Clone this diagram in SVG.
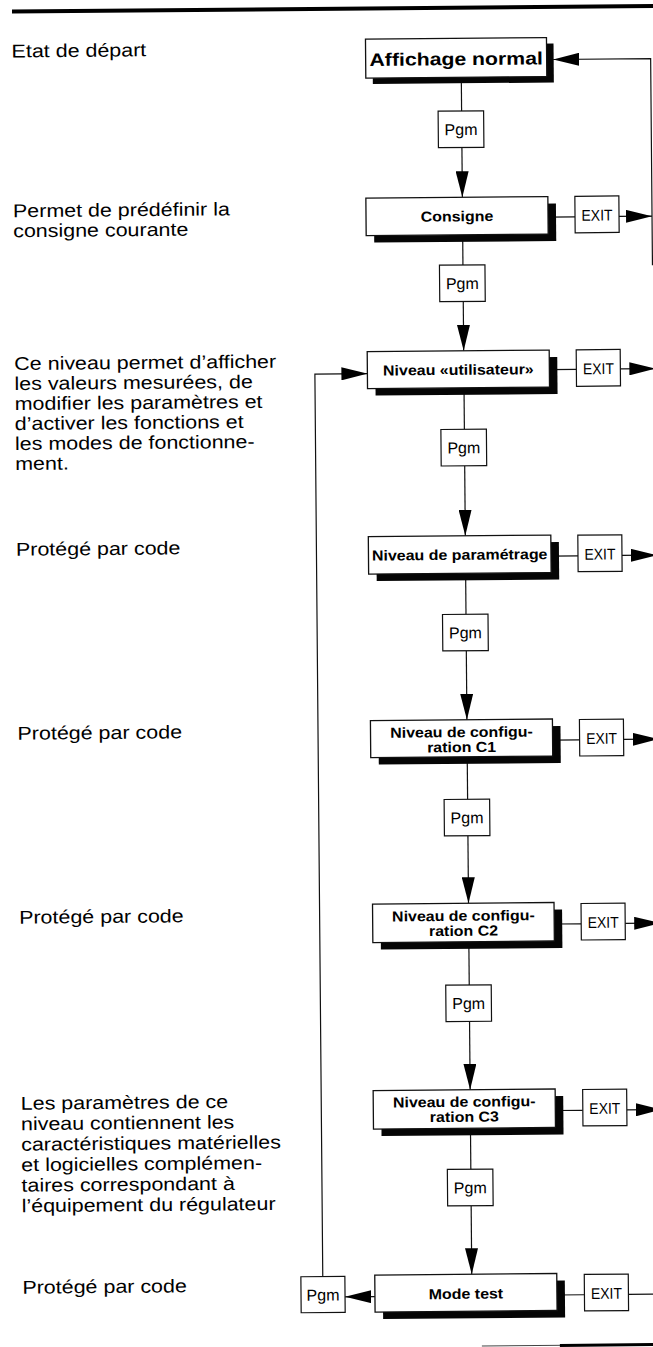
<svg xmlns="http://www.w3.org/2000/svg" width="653" height="1347" viewBox="0 0 653 1347">
<defs>
<marker id="ah" markerUnits="userSpaceOnUse" markerWidth="26" markerHeight="13" refX="26" refY="6.5" orient="auto" viewBox="0 0 26 13"><path d="M0,0 L26,6.5 L0,13 Z" fill="#000"/></marker>
<style>
.box{fill:#fff;stroke:#111;stroke-width:1.3}
.sh{fill:#050505}
.sm{fill:#fff;stroke:#111;stroke-width:1.2}
.bt{font-family:"Liberation Sans",Arial,sans-serif;font-weight:bold;font-size:14.5px;text-anchor:middle;fill:#000}
.st{font-family:"Liberation Sans",Arial,sans-serif;font-size:16px;text-anchor:middle;fill:#000}
.ex{font-family:"Liberation Sans",Arial,sans-serif;font-size:15.5px;text-anchor:middle;fill:#000}
.lt{font-family:"Liberation Sans",Arial,sans-serif;font-size:18.5px;fill:#000}
.c{fill:none;stroke:#111;stroke-width:1.2}
.ca{marker-end:url(#ah)}
</style>
</defs>
<rect width="653" height="1347" fill="#fff"/>
<g transform="rotate(-0.5 326 673)">
<rect x="17.8" y="6.8" width="645" height="4" fill="#000"/>
<line x1="476" y1="1347.4" x2="660" y2="1347.4" stroke="#444" stroke-width="1"/>
<line x1="554" y1="1347.4" x2="660" y2="1347.4" stroke="#000" stroke-width="3"/>

<g id="notes" transform="scale(1.16,1)" class="lt">
<text x="14.66" y="54.7">Etat de départ</text>
<text x="14.66" y="214.5">Permet de prédéfinir la</text>
<text x="14.66" y="234.5">consigne courante</text>
<text x="14.66" y="367.3">Ce niveau permet d’afficher</text>
<text x="14.66" y="387.3">les valeurs mesurées, de</text>
<text x="14.66" y="407.3">modifier les paramètres et</text>
<text x="14.66" y="427.3">d’activer les fonctions et</text>
<text x="14.66" y="447.3">les modes de fonctionne-</text>
<text x="14.66" y="467.3">ment.</text>
<text x="14.66" y="553">Protégé par code</text>
<text x="14.66" y="737">Protégé par code</text>
<text x="14.66" y="921">Protégé par code</text>
<text x="14.66" y="1107">Les paramètres de ce</text>
<text x="14.66" y="1127.5">niveau contiennent les</text>
<text x="14.66" y="1148">caractéristiques matérielles</text>
<text x="14.66" y="1168.5">et logicielles complémen-</text>
<text x="14.66" y="1189">taires correspondant à</text>
<text x="14.66" y="1209.5">l’équipement du régulateur</text>
<text x="14.66" y="1291">Protégé par code</text>
</g>

<g id="connectors">
<line class="c" x1="466.5" y1="78.5" x2="466.5" y2="112.2"/>
<line class="c ca" x1="466.5" y1="148.7" x2="466.5" y2="198.5"/>
<line class="c" x1="466.5" y1="236" x2="466.5" y2="266.2"/>
<line class="c ca" x1="466.5" y1="302.7" x2="466.5" y2="352"/>
<line class="c" x1="466.5" y1="389" x2="466.5" y2="430.5"/>
<line class="c ca" x1="466.5" y1="467" x2="466.5" y2="537"/>
<line class="c" x1="466.5" y1="574.5" x2="466.5" y2="615.5"/>
<line class="c ca" x1="466.5" y1="652" x2="466.5" y2="721"/>
<line class="c" x1="466.5" y1="758" x2="466.5" y2="800.5"/>
<line class="c ca" x1="466.5" y1="837" x2="466.5" y2="904.5"/>
<line class="c" x1="466.5" y1="943" x2="466.5" y2="986.2"/>
<line class="c ca" x1="466.5" y1="1022.7" x2="466.5" y2="1091"/>
<line class="c" x1="466.5" y1="1129.5" x2="466.5" y2="1170.5"/>
<line class="c ca" x1="466.5" y1="1207" x2="466.5" y2="1275.5"/>

<line class="c" x1="552" y1="219" x2="579" y2="219"/>
<line class="c ca" x1="623" y1="219" x2="656" y2="219"/>
<line class="c" x1="552" y1="371.5" x2="579" y2="371.5"/>
<line class="c ca" x1="623" y1="371.5" x2="658" y2="371.5"/>
<line class="c" x1="552" y1="558" x2="579" y2="558"/>
<line class="c ca" x1="623" y1="558" x2="658" y2="558"/>
<line class="c" x1="552" y1="742" x2="579" y2="742"/>
<line class="c ca" x1="623" y1="742" x2="658" y2="742"/>
<line class="c" x1="552" y1="926" x2="579" y2="926"/>
<line class="c ca" x1="623" y1="926" x2="658" y2="926"/>
<line class="c" x1="552" y1="1112.5" x2="579" y2="1112.5"/>
<line class="c ca" x1="623" y1="1112.5" x2="658" y2="1112.5"/>
<line class="c" x1="552" y1="1297" x2="579" y2="1297"/>
<line class="c" x1="623" y1="1297" x2="662" y2="1297"/>

<path class="c ca" d="M656,268 V61.5 H558.5"/>
<path class="c ca" d="M317.5,1276.5 V374 H370"/>
<line class="c ca" x1="369.5" y1="1297" x2="339.6" y2="1297"/>
</g>

<g id="n-affichage">
<rect class="sh" x="378" y="45.5" width="181" height="39"/>
<rect class="box" x="371" y="39.5" width="181" height="39"/>
<text class="bt" style="font-size:18px" transform="translate(461.5,66.3) scale(1.18,1)">Affichage normal</text>
</g>
<g id="p1"><rect class="sm" x="443" y="112.2" width="45.5" height="36.5"/><text class="st" x="465.75" y="136.2">Pgm</text></g>

<g id="n-consigne">
<rect class="sh" x="378" y="205.5" width="182" height="37.5"/>
<rect class="box" x="370" y="198.5" width="182" height="37.5"/>
<text class="bt" transform="translate(461,222.5) scale(1.1,1)">Consigne</text>
</g>
<g id="e1"><rect class="sm" x="579" y="198.5" width="44" height="36.5"/><text class="ex" x="601" y="223" textLength="31" lengthAdjust="spacingAndGlyphs">EXIT</text></g>
<g id="p2"><rect class="sm" x="443" y="266.2" width="45.5" height="36.5"/><text class="st" x="465.75" y="290.2">Pgm</text></g>

<g id="n-utilisateur">
<rect class="sh" x="378" y="359" width="182" height="37"/>
<rect class="box" x="370" y="352" width="182" height="37"/>
<text class="bt" transform="translate(461,376) scale(1.1,1)">Niveau «utilisateur»</text>
</g>
<g id="e2"><rect class="sm" x="579" y="352" width="44" height="36.5"/><text class="ex" x="601" y="376.5" textLength="31" lengthAdjust="spacingAndGlyphs">EXIT</text></g>
<g id="p3"><rect class="sm" x="443" y="430.5" width="45.5" height="36.5"/><text class="st" x="465.75" y="454.5">Pgm</text></g>

<g id="n-parametrage">
<rect class="sh" x="377.5" y="544" width="182.5" height="37.5"/>
<rect class="box" x="369.5" y="537" width="182.5" height="37.5"/>
<text class="bt" transform="translate(460.75,561) scale(1.1,1)">Niveau de paramétrage</text>
</g>
<g id="e3"><rect class="sm" x="579" y="537.4" width="44" height="36.5"/><text class="ex" x="601" y="561.9" textLength="31" lengthAdjust="spacingAndGlyphs">EXIT</text></g>
<g id="p4"><rect class="sm" x="443" y="615.5" width="45.5" height="36.5"/><text class="st" x="465.75" y="639.5">Pgm</text></g>

<g id="n-c1">
<rect class="sh" x="378" y="728" width="182" height="37"/>
<rect class="box" x="370" y="721" width="182" height="37"/>
<text class="bt" transform="translate(461,738.3) scale(1.1,1)">Niveau de configu-</text>
<text class="bt" transform="translate(461,753.3) scale(1.1,1)">ration C1</text>
</g>
<g id="e4"><rect class="sm" x="579" y="721.7" width="44" height="36.5"/><text class="ex" x="601" y="746.2" textLength="31" lengthAdjust="spacingAndGlyphs">EXIT</text></g>
<g id="p5"><rect class="sm" x="443" y="800.5" width="45.5" height="36.5"/><text class="st" x="465.75" y="824.5">Pgm</text></g>

<g id="n-c2">
<rect class="sh" x="378.5" y="911.5" width="181.5" height="38.5"/>
<rect class="box" x="370.5" y="904.5" width="181.5" height="38.5"/>
<text class="bt" transform="translate(461.25,922) scale(1.1,1)">Niveau de configu-</text>
<text class="bt" transform="translate(461.25,937) scale(1.1,1)">ration C2</text>
</g>
<g id="e5"><rect class="sm" x="579" y="905.7" width="44" height="36.5"/><text class="ex" x="601" y="930.2" textLength="31" lengthAdjust="spacingAndGlyphs">EXIT</text></g>
<g id="p6"><rect class="sm" x="443" y="986.2" width="45.5" height="36.5"/><text class="st" x="465.75" y="1010.2">Pgm</text></g>

<g id="n-c3">
<rect class="sh" x="377.5" y="1098" width="182" height="38.5"/>
<rect class="box" x="369.5" y="1091" width="182" height="38.5"/>
<text class="bt" transform="translate(460.5,1108) scale(1.1,1)">Niveau de configu-</text>
<text class="bt" transform="translate(460.5,1123) scale(1.1,1)">ration C3</text>
</g>
<g id="e6"><rect class="sm" x="579" y="1091.7" width="44" height="36.5"/><text class="ex" x="601" y="1116.2" textLength="31" lengthAdjust="spacingAndGlyphs">EXIT</text></g>
<g id="p7"><rect class="sm" x="443" y="1170.5" width="45.5" height="36.5"/><text class="st" x="465.75" y="1194.5">Pgm</text></g>

<g id="n-modetest">
<rect class="sh" x="377.5" y="1282.5" width="182" height="37"/>
<rect class="box" x="369.5" y="1275.5" width="182" height="37"/>
<text class="bt" transform="translate(460.5,1300) scale(1.1,1)">Mode test</text>
</g>
<g id="e7"><rect class="sm" x="579" y="1276.7" width="44" height="36.5"/><text class="ex" x="601" y="1301.2" textLength="31" lengthAdjust="spacingAndGlyphs">EXIT</text></g>
<g id="p8"><rect class="sm" x="295.6" y="1276.5" width="44" height="36"/><text class="st" x="317.6" y="1300.5">Pgm</text></g>
</g>
</svg>
